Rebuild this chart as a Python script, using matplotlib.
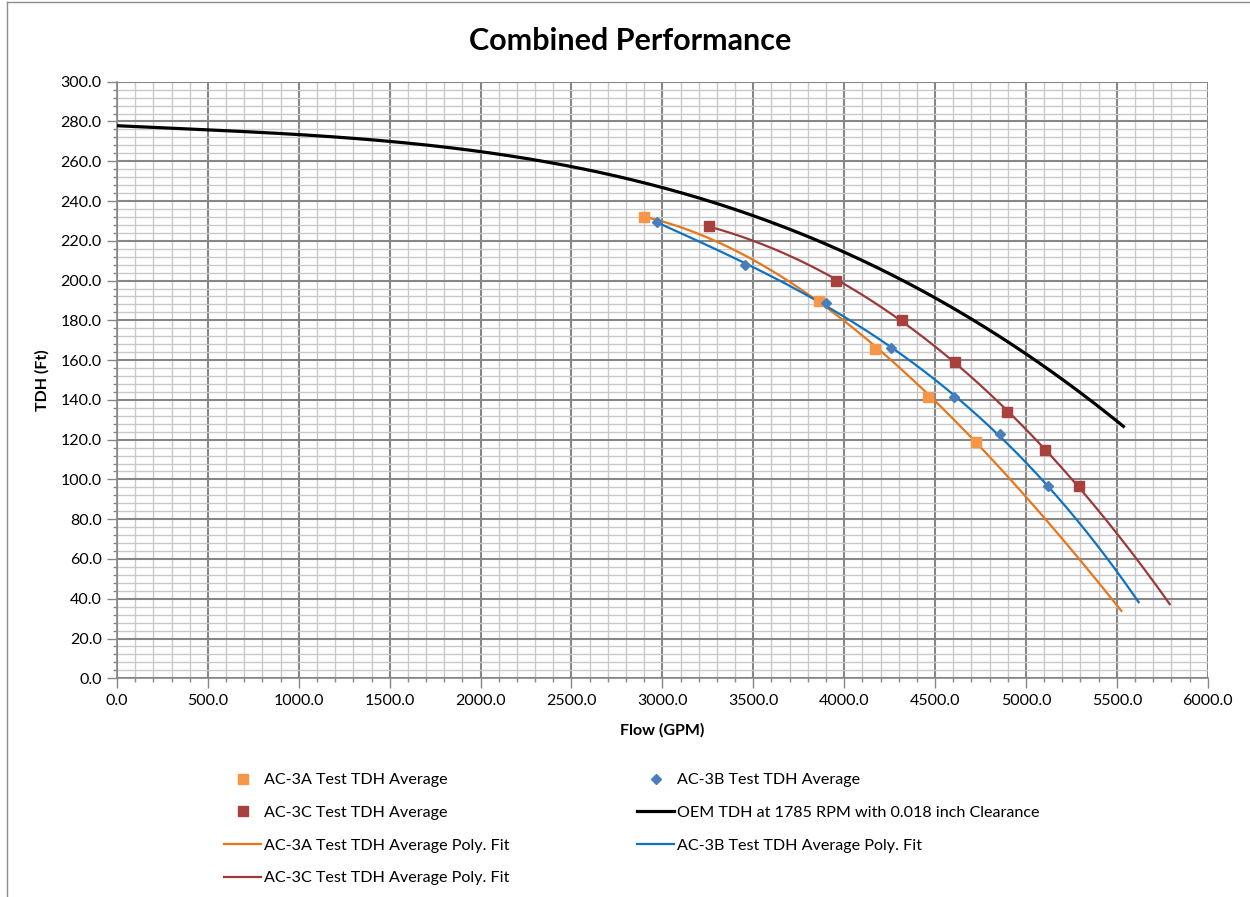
import numpy as np
import matplotlib
matplotlib.use("Agg")
import matplotlib.pyplot as plt
from matplotlib.lines import Line2D
from matplotlib.ticker import MultipleLocator, FormatStrFormatter

plt.rcParams["font.family"] = ["Lato", "DejaVu Sans"]

# ---- data ------------------------------------------------------------------
a_flow = [2900, 3860, 4170, 4460, 4725]
a_tdh = [232.0, 189.5, 165.8, 141.5, 119.0]

b_flow = [2970, 3455, 3900, 4255, 4605, 4855, 5120]
b_tdh = [229.5, 207.7, 188.8, 166.2, 141.3, 122.7, 96.5]

c_flow = [3255, 3955, 4320, 4610, 4897, 5102, 5291]
c_tdh = [227.3, 200.0, 180.0, 159.0, 134.1, 114.9, 96.5]

oem_flow = [0, 500, 1000, 1500, 2000, 2500, 3000, 3500, 3750, 4000,
            4250, 4500, 4750, 5000, 5250, 5536]
oem_tdh = [277.7, 276.0, 273.6, 270.0, 264.6, 257.3, 246.3, 232.6, 224.2, 215.0,
           203.6, 191.5, 177.8, 162.5, 146.3, 127.4]

# AC-3A trendline as drawn (incl. forecast part)
a_fit_flow = [2900, 3000, 3250, 3500, 3750, 4000, 4250, 4500, 4750, 5000, 5250, 5525]
a_fit_tdh = [232.0, 230.1, 221.7, 209.5, 196.1, 180.2, 161.7, 138.3, 117.3, 90.6, 64.2, 34.3]

# trendline end points (forecast forward 500)
b_fit_end = 5620
c_fit_end = 5791

ORANGE_M = "#F79646"
BLUE_M = "#4A7EBB"
RED_M = "#A8403E"
ORANGE_L = "#E8761B"
BLUE_L = "#0F73C3"
RED_L = "#9C3A3A"
MAJOR = "#878787"
MINOR = "#C9C9C9"

fig = plt.figure(figsize=(12.5, 8.97), dpi=100, facecolor="white")
ax = fig.add_axes([0.0936, 0.2438, 0.8726, 0.6651])


def smooth_line(x, y, end, deg, color, lw, label):
    coef = np.polyfit(x, y, deg)
    xs = np.linspace(min(x), end, 300)
    return ax.plot(xs, np.polyval(coef, xs), color=color, lw=lw, label=label, zorder=3)[0]


h_afit = smooth_line(a_fit_flow, a_fit_tdh, max(a_fit_flow), 3, ORANGE_L, 1.6,
                     "AC-3A Test TDH Average Poly. Fit")
h_bfit = smooth_line(b_flow, b_tdh, b_fit_end, 3, BLUE_L, 1.6, "AC-3B Test TDH Average Poly. Fit")
h_cfit = smooth_line(c_flow, c_tdh, c_fit_end, 3, RED_L, 1.6, "AC-3C Test TDH Average Poly. Fit")
h_oem = smooth_line(oem_flow, oem_tdh, max(oem_flow), 4, "black", 2.3,
                    "OEM TDH at 1785 RPM with 0.018 inch Clearance")

h_a, = ax.plot(a_flow, a_tdh, ls="none", marker="s", ms=7, color=ORANGE_M, zorder=4,
               label="AC-3A Test TDH Average")
h_b, = ax.plot(b_flow, b_tdh, ls="none", marker="D", ms=5, color=BLUE_M, zorder=4,
               label="AC-3B Test TDH Average")
h_c, = ax.plot(c_flow, c_tdh, ls="none", marker="s", ms=7.5, color=RED_M, zorder=4,
               label="AC-3C Test TDH Average")

ax.set_xlim(0, 6000)
ax.set_ylim(0, 300)
ax.xaxis.set_major_locator(MultipleLocator(500))
ax.xaxis.set_minor_locator(MultipleLocator(100))
ax.yaxis.set_major_locator(MultipleLocator(20))
ax.yaxis.set_minor_locator(MultipleLocator(4))
ax.xaxis.set_major_formatter(FormatStrFormatter("%.1f"))
ax.yaxis.set_major_formatter(FormatStrFormatter("%.1f"))
ax.grid(True, which="major", color=MAJOR, lw=1.5, zorder=1)
ax.grid(True, which="minor", color=MINOR, lw=1.0, zorder=0)
ax.set_axisbelow(True)
ax.tick_params(which="major", direction="out", length=7, width=1, color=MAJOR,
               labelsize=11.5, pad=4)
ax.tick_params(which="minor", direction="out", length=3, width=1, color=MAJOR)
for side in ["top", "right"]:
    ax.spines[side].set_visible(False)
for side in ["left", "bottom"]:
    ax.spines[side].set_color(MAJOR)
    ax.spines[side].set_linewidth(1.2)

fig.text(0.504, 1 - 41 / 897, "Combined Performance", ha="center", va="center",
         fontsize=22, fontweight="bold")
fig.text(0.53, 1 - 730 / 897, "Flow (GPM)", ha="center", va="center",
         fontsize=11.5, fontweight="bold")
fig.text(42 / 1250, 1 - 380 / 897, "TDH (Ft)", ha="center", va="center",
         fontsize=11.5, fontweight="bold", rotation=90)

common = dict(loc="upper left", frameon=False, fontsize=11.6, borderpad=0,
              borderaxespad=0, handlelength=2.3, handletextpad=0.2,
              labelspacing=1.14, numpoints=1)
fig.legend(handles=[h_a, h_c, h_afit, h_cfit], bbox_to_anchor=(224 / 1250, 1 - 773 / 897), **common)
fig.legend(handles=[h_b, h_oem, h_bfit], bbox_to_anchor=(637 / 1250, 1 - 773 / 897), **common)

# chart-area border (left and top edges visible in the reference)
fig.add_artist(Line2D([7 / 1250, 7 / 1250], [0, 1 - 2 / 897], color="#8C8C8C", lw=1,
                      transform=fig.transFigure))
fig.add_artist(Line2D([7 / 1250, 1], [1 - 2 / 897, 1 - 2 / 897], color="#8C8C8C", lw=1,
                      transform=fig.transFigure))

fig.savefig("out.png", dpi=100, facecolor="white")
